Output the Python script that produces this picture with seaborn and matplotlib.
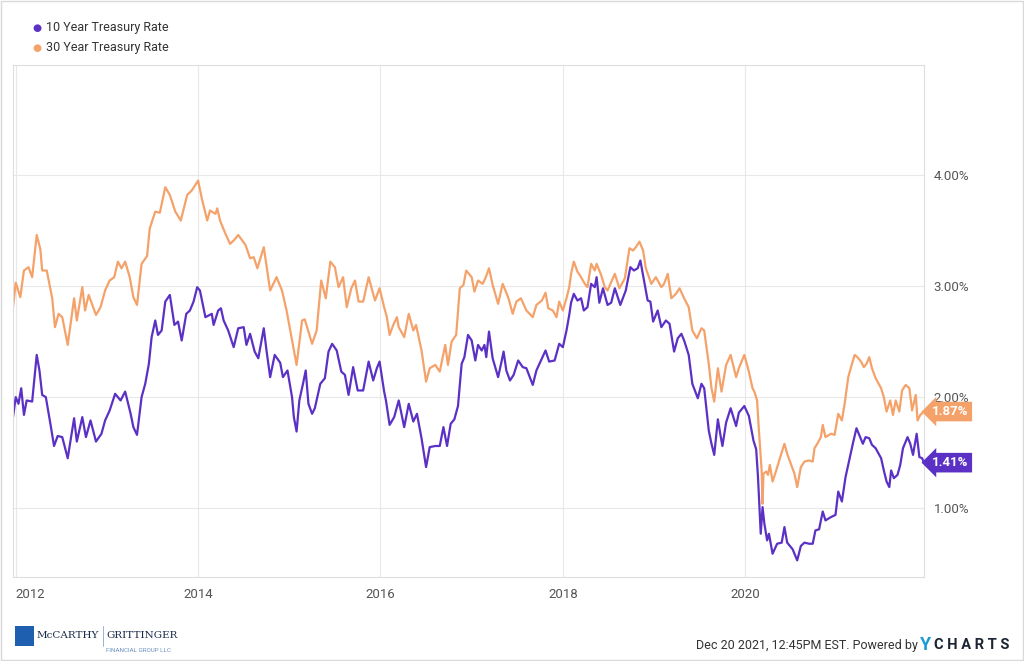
import numpy as np
import pandas as pd
import seaborn as sns
import matplotlib.pyplot as plt
from matplotlib.patches import Rectangle

# 10 year treasury rate (decimal year, %)
t10 = [2011.97, 2012.00, 2012.03, 2012.06, 2012.09, 2012.12, 2012.18, 2012.23, 2012.26, 2012.29,
       2012.33, 2012.38, 2012.42, 2012.46, 2012.51, 2012.57, 2012.64, 2012.67, 2012.73, 2012.77,
       2012.82, 2012.88, 2012.94, 2012.98, 2013.03, 2013.09, 2013.15, 2013.20, 2013.26, 2013.29,
       2013.33, 2013.38, 2013.42, 2013.46, 2013.49, 2013.53, 2013.56, 2013.60, 2013.64, 2013.69,
       2013.74, 2013.78, 2013.82, 2013.87, 2013.91, 2013.95, 2013.99,
       2014.02, 2014.08, 2014.15, 2014.17, 2014.22, 2014.25, 2014.28, 2014.33, 2014.39, 2014.44,
       2014.50, 2014.53, 2014.57, 2014.62, 2014.66, 2014.72, 2014.75, 2014.79, 2014.84, 2014.90,
       2014.93, 2014.98, 2015.03, 2015.05, 2015.08, 2015.11, 2015.15, 2015.18, 2015.21, 2015.25,
       2015.28, 2015.34, 2015.39, 2015.43, 2015.47, 2015.52, 2015.57, 2015.61, 2015.65, 2015.70,
       2015.75, 2015.81, 2015.87, 2015.92, 2015.96, 2015.99, 2016.04,
       2016.06, 2016.10, 2016.15, 2016.20, 2016.26, 2016.31, 2016.36, 2016.40, 2016.45, 2016.50,
       2016.54, 2016.60, 2016.65, 2016.69, 2016.73, 2016.77, 2016.81, 2016.85, 2016.89, 2016.92,
       2016.96, 2017.00, 2017.04, 2017.07, 2017.11, 2017.14, 2017.16, 2017.19, 2017.23, 2017.29,
       2017.33, 2017.35, 2017.38, 2017.42, 2017.46, 2017.51, 2017.56, 2017.60, 2017.67, 2017.71,
       2017.76, 2017.81, 2017.85, 2017.91, 2017.96, 2018.00, 2018.04, 2018.07,
       2018.09, 2018.12, 2018.16, 2018.20, 2018.23, 2018.27, 2018.31, 2018.35, 2018.37, 2018.40,
       2018.44, 2018.49, 2018.53, 2018.57, 2018.63, 2018.69, 2018.74, 2018.78, 2018.82, 2018.85,
       2018.89, 2018.93, 2018.96, 2018.99, 2019.04, 2019.08, 2019.13, 2019.17, 2019.22, 2019.26,
       2019.30, 2019.33, 2019.38, 2019.42, 2019.48, 2019.52, 2019.55, 2019.60, 2019.63, 2019.66,
       2019.70, 2019.73, 2019.75, 2019.79, 2019.84, 2019.90, 2019.93, 2019.99, 2020.04, 2020.09,
       2020.12, 2020.14, 2020.17, 2020.19, 2020.21, 2020.24, 2020.26, 2020.30, 2020.35, 2020.40,
       2020.43, 2020.46, 2020.52, 2020.57, 2020.61, 2020.65, 2020.70, 2020.74, 2020.77, 2020.81,
       2020.85, 2020.88, 2020.94, 2020.99, 2021.02, 2021.06, 2021.10, 2021.14, 2021.18, 2021.22,
       2021.25, 2021.29, 2021.32, 2021.36, 2021.39, 2021.43, 2021.49, 2021.52, 2021.55, 2021.58,
       2021.60, 2021.63, 2021.67, 2021.70, 2021.73, 2021.78, 2021.81, 2021.84, 2021.88, 2021.91,
       2021.94, 2021.96]
v10 = [1.82, 2.00, 1.94, 2.08, 1.84, 1.97, 1.96, 2.38, 2.24, 2.02,
       2.00, 1.76, 1.56, 1.65, 1.64, 1.45, 1.81, 1.60, 1.82, 1.64,
       1.79, 1.60, 1.67, 1.79, 1.88, 2.03, 1.97, 2.05, 1.85, 1.73,
       1.66, 2.00, 2.12, 2.30, 2.54, 2.69, 2.56, 2.60, 2.86, 2.92,
       2.65, 2.68, 2.51, 2.75, 2.78, 2.86, 2.99,
       2.96, 2.72, 2.75, 2.65, 2.78, 2.80, 2.69, 2.60, 2.45, 2.62,
       2.63, 2.47, 2.57, 2.41, 2.35, 2.62, 2.42, 2.18, 2.38, 2.31,
       2.18, 2.24, 2.00, 1.82, 1.69, 1.97, 2.12, 2.24, 1.94, 1.85,
       1.90, 2.12, 2.17, 2.41, 2.48, 2.42, 2.23, 2.20, 2.02, 2.27,
       2.06, 2.06, 2.32, 2.15, 2.26, 2.32, 2.05,
       1.97, 1.75, 1.82, 1.97, 1.73, 1.94, 1.78, 1.85, 1.63, 1.37,
       1.55, 1.56, 1.56, 1.73, 1.56, 1.76, 1.80, 1.92, 2.30, 2.36,
       2.56, 2.51, 2.33, 2.47, 2.42, 2.47, 2.36, 2.59, 2.35, 2.18,
       2.33, 2.41, 2.24, 2.15, 2.20, 2.33, 2.27, 2.26, 2.11, 2.24,
       2.33, 2.42, 2.32, 2.33, 2.48, 2.45, 2.60, 2.74,
       2.85, 2.93, 2.87, 2.89, 2.78, 2.81, 3.02, 2.99, 3.08, 2.85,
       2.98, 2.83, 2.85, 2.98, 2.83, 2.96, 3.17, 3.14, 3.16, 3.23,
       3.05, 2.87, 2.86, 2.68, 2.78, 2.63, 2.69, 2.66, 2.41, 2.53,
       2.57, 2.51, 2.38, 2.12, 1.99, 2.12, 2.08, 1.70, 1.58, 1.48,
       1.80, 1.65, 1.56, 1.77, 1.90, 1.74, 1.86, 1.92, 1.83, 1.61,
       1.53, 1.28, 0.77, 1.01, 0.86, 0.71, 0.77, 0.59, 0.68, 0.69,
       0.83, 0.69, 0.63, 0.53, 0.66, 0.69, 0.68, 0.68, 0.80, 0.81,
       0.97, 0.89, 0.92, 0.94, 1.15, 1.06, 1.28, 1.43, 1.58, 1.72,
       1.66, 1.58, 1.64, 1.63, 1.57, 1.54, 1.45, 1.34, 1.24, 1.19,
       1.34, 1.27, 1.30, 1.39, 1.54, 1.64, 1.58, 1.48, 1.67, 1.46,
       1.45, 1.41]

# 30 year treasury rate (decimal year, %)
t30 = [2011.97, 2012.00, 2012.05, 2012.09, 2012.14, 2012.18, 2012.23, 2012.27, 2012.29, 2012.34,
       2012.40, 2012.43, 2012.47, 2012.51, 2012.57, 2012.64, 2012.67, 2012.73, 2012.76, 2012.80,
       2012.88, 2012.93, 2012.98, 2013.03, 2013.08, 2013.12, 2013.16, 2013.20, 2013.25, 2013.29,
       2013.33, 2013.38, 2013.44, 2013.47, 2013.53, 2013.58, 2013.64, 2013.69, 2013.75, 2013.81,
       2013.88, 2013.93, 2014.00,
       2014.04, 2014.10, 2014.13, 2014.19, 2014.21, 2014.24, 2014.30, 2014.35, 2014.39, 2014.44,
       2014.52, 2014.57, 2014.61, 2014.65, 2014.72, 2014.79, 2014.86, 2014.92, 2014.97, 2015.03,
       2015.08, 2015.14, 2015.17, 2015.25, 2015.30, 2015.35, 2015.40, 2015.45, 2015.50, 2015.54,
       2015.59, 2015.63, 2015.68, 2015.72, 2015.76, 2015.81, 2015.87, 2015.94, 2015.99, 2016.04,
       2016.07, 2016.10, 2016.14, 2016.18, 2016.20, 2016.26, 2016.31, 2016.36, 2016.39, 2016.45,
       2016.50, 2016.54, 2016.60, 2016.65, 2016.71, 2016.74, 2016.78, 2016.83, 2016.87, 2016.91,
       2016.94, 2017.00, 2017.03, 2017.07, 2017.12, 2017.15, 2017.19, 2017.23, 2017.29, 2017.34,
       2017.40, 2017.45, 2017.49, 2017.54, 2017.60, 2017.67, 2017.71, 2017.77, 2017.81, 2017.84,
       2017.89, 2017.93, 2017.96, 2018.00, 2018.04, 2018.07,
       2018.09, 2018.12, 2018.16, 2018.20, 2018.24, 2018.27, 2018.31, 2018.35, 2018.37, 2018.42,
       2018.46, 2018.49, 2018.57, 2018.62, 2018.68, 2018.73, 2018.77, 2018.80, 2018.84, 2018.88,
       2018.91, 2018.97, 2019.02, 2019.08, 2019.11, 2019.15, 2019.19, 2019.24, 2019.28, 2019.33,
       2019.38, 2019.42, 2019.47, 2019.52, 2019.55, 2019.60, 2019.63, 2019.66, 2019.70, 2019.74,
       2019.79, 2019.84, 2019.90, 2019.93, 2019.99, 2020.04, 2020.08,
       2020.10, 2020.13, 2020.15, 2020.18, 2020.19, 2020.20, 2020.23, 2020.25, 2020.27, 2020.30,
       2020.34, 2020.38, 2020.43, 2020.46, 2020.50, 2020.54, 2020.57, 2020.61, 2020.65, 2020.70,
       2020.74, 2020.76, 2020.79, 2020.83, 2020.85, 2020.88, 2020.94, 2020.98, 2021.02, 2021.06,
       2021.09, 2021.13, 2021.16, 2021.20, 2021.23, 2021.27, 2021.30, 2021.33, 2021.36, 2021.39,
       2021.43, 2021.49, 2021.52, 2021.55, 2021.59, 2021.62, 2021.65, 2021.69, 2021.72, 2021.76,
       2021.80, 2021.83, 2021.87, 2021.89, 2021.92, 2021.96]
v30 = [2.81, 3.03, 2.90, 3.14, 3.17, 3.08, 3.46, 3.33, 3.14, 3.14,
       2.89, 2.63, 2.75, 2.72, 2.47, 2.89, 2.69, 2.99, 2.78, 2.92,
       2.74, 2.81, 2.96, 3.05, 3.08, 3.22, 3.16, 3.22, 3.08, 2.90,
       2.83, 3.20, 3.27, 3.52, 3.67, 3.66, 3.89, 3.82, 3.67, 3.59,
       3.82, 3.86, 3.95,
       3.79, 3.59, 3.68, 3.65, 3.70, 3.59, 3.47, 3.38, 3.41, 3.46,
       3.37, 3.25, 3.26, 3.16, 3.35, 2.96, 3.08, 2.96, 2.78, 2.51,
       2.29, 2.69, 2.70, 2.48, 2.60, 3.05, 2.89, 3.22, 3.17, 2.99,
       3.08, 2.81, 2.98, 3.05, 2.86, 2.86, 3.08, 2.87, 2.98, 2.81,
       2.72, 2.56, 2.65, 2.72, 2.63, 2.54, 2.75, 2.60, 2.65, 2.42,
       2.14, 2.26, 2.29, 2.23, 2.47, 2.29, 2.50, 2.56, 2.98, 3.01,
       3.14, 3.08, 2.95, 3.05, 3.02, 3.07, 3.16, 3.01, 2.84, 3.02,
       2.90, 2.75, 2.86, 2.89, 2.78, 2.72, 2.83, 2.87, 2.94, 2.80,
       2.78, 2.72, 2.86, 2.78, 2.89, 2.99,
       3.11, 3.22, 3.13, 3.08, 3.02, 2.99, 3.20, 3.14, 3.20, 3.10,
       2.99, 2.96, 3.11, 2.98, 3.07, 3.34, 3.32, 3.35, 3.40, 3.32,
       3.16, 3.02, 3.08, 2.99, 3.02, 3.11, 2.89, 2.93, 2.98, 2.89,
       2.81, 2.60, 2.53, 2.62, 2.60, 2.30, 2.08, 1.96, 2.26, 2.05,
       2.29, 2.38, 2.18, 2.26, 2.38, 2.23, 2.08,
       2.05, 1.97, 1.70, 1.34, 1.04, 1.31, 1.33, 1.30, 1.39, 1.24,
       1.34, 1.45, 1.58, 1.49, 1.40, 1.31, 1.19, 1.37, 1.42, 1.43,
       1.42, 1.54, 1.58, 1.64, 1.75, 1.64, 1.67, 1.66, 1.85, 1.79,
       1.94, 2.18, 2.27, 2.38, 2.36, 2.32, 2.27, 2.30, 2.36, 2.26,
       2.17, 2.08, 2.00, 1.87, 1.97, 1.84, 1.97, 1.87, 2.06, 2.11,
       2.08, 1.88, 2.02, 1.79, 1.84, 1.87]

names = ['10 Year Treasury Rate', '30 Year Treasury Rate']
colors = ['#5b31c5', '#f5a26a']
year_ticks = [2012, 2014, 2016, 2018, 2020]
rate_ticks = [1, 2, 3, 4]

df = pd.concat([
    pd.DataFrame({'year': t10, 'rate': v10, 'series': names[0]}),
    pd.DataFrame({'year': t30, 'rate': v30, 'series': names[1]}),
])

sns.set_style('white')
plt.rcParams['font.family'] = ['Roboto', 'DejaVu Sans']

fig = plt.figure(figsize=(10.24, 6.61), dpi=100)
ax = fig.add_axes([0.0127, 0.127, 0.8896, 0.7746])

sns.lineplot(data=df, x='year', y='rate', hue='series', palette=colors,
             estimator=None, sort=False, linewidth=1.6, legend=False, ax=ax)

ax.set_xlim(2011.97, 2021.96)
ax.set_ylim(0.38, 4.99)
ax.set_xlabel('')
ax.set_ylabel('')

ax.set_xticks(year_ticks)
ax.set_xticklabels([str(y) for y in year_ticks])
ax.get_xticklabels()[0].set_horizontalalignment('left')
ax.set_yticks(rate_ticks)
ax.set_yticklabels(['%.2f%%' % r for r in rate_ticks])
ax.yaxis.tick_right()
ax.tick_params(axis='both', length=0, labelsize=9.5, labelcolor='#555555')
ax.tick_params(axis='y', pad=7)
ax.tick_params(axis='x', pad=8)
ax.grid(True, color='#e8e8e8', linewidth=0.8)
for s in ax.spines.values():
    s.set_color('#dddddd')
    s.set_linewidth(0.8)

# last value tags
for vals, col in [(v30, colors[1]), (v10, colors[0])]:
    ax.annotate('%.2f%%' % vals[-1], xy=(1, vals[-1]), xycoords=('axes fraction', 'data'),
                xytext=(6, 0), textcoords='offset points', ha='left', va='center',
                color='white', fontsize=9.5, fontweight='bold',
                bbox=dict(boxstyle='larrow,pad=0.25', fc=col, ec='none'),
                annotation_clip=False)

# legend
for i, (n, c) in enumerate(zip(names, colors)):
    y = 1 - (28 + 20 * i) / 661
    fig.text(37 / 1024, y, '\u25cf', color=c, fontsize=7.5, ha='center', va='center')
    fig.text(46 / 1024, y, n, color='#333333', fontsize=9, ha='left', va='center')

# footer
fig.text(918 / 1024, 1 - 646 / 661, 'Dec 20 2021, 12:45PM EST. Powered by', color='#333333',
         fontsize=9, ha='right', va='center')
fig.text(920 / 1024, 1 - 645 / 661, 'Y', color='#1b9ad6', fontsize=13, fontweight='bold',
         ha='left', va='center')
fig.text(934 / 1024, 1 - 645 / 661, 'C H A R T S', color='#1d2433', fontsize=10.5,
         fontweight='bold', ha='left', va='center')

fig.patches.append(Rectangle((15 / 1024, 1 - 646 / 661), 19 / 1024, 20 / 661,
                             transform=fig.transFigure, fc='#1f5fb0', ec='none'))
fig.text(37 / 1024, 1 - 636 / 661, 'McCARTHY', color='#1a2a4a', fontsize=7.5,
         family='DejaVu Serif', ha='left', va='center')
fig.text(106 / 1024, 1 - 636 / 661, 'GRITTINGER', color='#1a2a4a', fontsize=7.5,
         family='DejaVu Serif', ha='left', va='center')
fig.lines.append(plt.Line2D([103 / 1024, 103 / 1024], [1 - 646 / 661, 1 - 626 / 661],
                            transform=fig.transFigure, color='#8aa6cc', lw=0.6))
fig.text(106 / 1024, 1 - 651 / 661, 'FINANCIAL GROUP LLC', color='#6a8fc0', fontsize=4.5,
         ha='left', va='center')

fig.patches.append(Rectangle((1 / 1024, 1 / 661), 1022 / 1024, 659 / 661,
                             transform=fig.transFigure, fc='none', ec='#d9d9d9', lw=1))

fig.savefig('out.png', dpi=100)
